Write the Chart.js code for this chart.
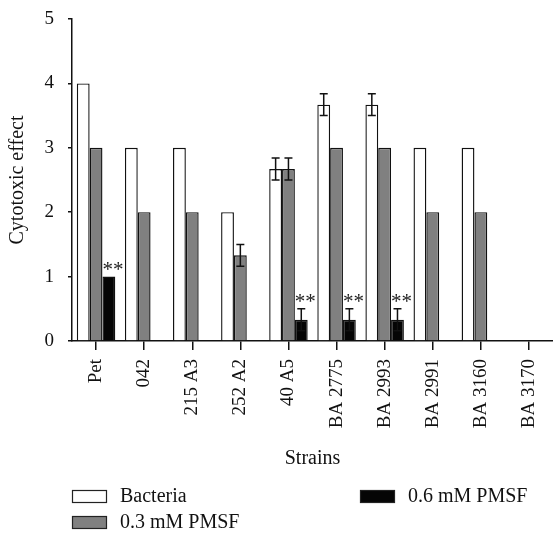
<!DOCTYPE html>
<html>
<head>
<meta charset="utf-8">
<script src="https://cdn.jsdelivr.net/npm/chart.js@4/dist/chart.umd.min.js"></script>
<style>
  html, body { margin: 0; padding: 0; background: #fff; }
  #wrap { width: 553px; height: 533px; position: relative; }
</style>
</head>
<body>
<div id="wrap"><canvas id="c" width="553" height="533"></canvas></div>
<script>
// ---- data ----
const categories = ['Pet', '042', '215 A3', '252 A2', '40 A5', 'BA 2775', 'BA 2993', 'BA 2991', 'BA 3160', 'BA 3170'];
const seriesNames = ['Bacteria', '0.3 mM PMSF', '0.6 mM PMSF'];
const bacteria = [4, 3, 3, 2, 2.67, 3.67, 3.67, 3, 3, 0];
const pmsf03 = [3, 2, 2, 1.33, 2.67, 3, 3, 2, 2, 0];
const pmsf06 = [1, 0, 0, 0, 0.33, 0.33, 0.33, 0, 0, 0];
const bacteriaErr = [0, 0, 0, 0, 0.17, 0.17, 0.17, 0, 0, 0];
const pmsf03Err = [0, 0, 0, 0.17, 0.17, 0, 0, 0, 0, 0];
const pmsf06Err = [0, 0, 0, 0, 0.17, 0.17, 0.17, 0, 0, 0];
const pmsf06Sig = ['**', '', '', '', '**', '**', '**', '', '', ''];
const yTicks = [0, 1, 2, 3, 4, 5];

const FONT = 'Liberation Serif';
const fills = ['#ffffff', '#808080', '#050505'];

const errorBars = {
  id: 'errorBars',
  afterDatasetsDraw(chart) {
    const ctx = chart.ctx;
    const y = chart.scales.y;
    ctx.save();
    ctx.strokeStyle = '#111';
    ctx.lineWidth = 1.5;
    chart.data.datasets.forEach((ds, di) => {
      const meta = chart.getDatasetMeta(di);
      ds.errors.forEach((e, i) => {
        if (!e) return;
        const bar = meta.data[i];
        const v = ds.data[i];
        const x = bar.x;
        const yt = y.getPixelForValue(v + e);
        const yb = y.getPixelForValue(v - e);
        ctx.beginPath();
        ctx.moveTo(x, yt); ctx.lineTo(x, yb);
        ctx.moveTo(x - 4, yt); ctx.lineTo(x + 4, yt);
        ctx.moveTo(x - 4, yb); ctx.lineTo(x + 4, yb);
        ctx.stroke();
      });
      if (ds.sig) {
        ctx.fillStyle = '#222';
        ctx.font = '21px "' + FONT + '"';
        ctx.textAlign = 'center';
        ctx.textBaseline = 'alphabetic';
        ds.sig.forEach((s, i) => {
          if (!s) return;
          const bar = meta.data[i];
          const top = y.getPixelForValue(ds.data[i] + (ds.errors[i] || 0));
          ctx.fillText(s, bar.x + 4, top - 1);
        });
      }
    });
    ctx.restore();
  }
};

const customLegend = {
  id: 'customLegend',
  afterDraw(chart) {
    const ctx = chart.ctx;
    const items = [
      {box: [72, 490], text: [120, 497]},
      {box: [72, 516], text: [120, 523]},
      {box: [360, 490], text: [408, 497]}
    ];
    ctx.save();
    ctx.font = '20px "' + FONT + '"';
    ctx.textBaseline = 'middle';
    ctx.textAlign = 'left';
    items.forEach((it, i) => {
      ctx.fillStyle = fills[i];
      ctx.fillRect(it.box[0], it.box[1], 35, 13);
      ctx.strokeStyle = '#222';
      ctx.lineWidth = 1.2;
      ctx.strokeRect(it.box[0] + 0.5, it.box[1] + 0.5, 34, 12);
      ctx.fillStyle = '#111';
      ctx.fillText(chart.data.datasets[i].label, it.text[0], it.text[1]);
    });
    ctx.restore();
  }
};

const mk = (label, data, errors, fill, sig) => ({
  label, data, errors, sig,
  backgroundColor: fill,
  borderColor: '#111',
  borderWidth: 1.4,
  borderSkipped: 'start',
  categoryPercentage: 0.8,
  barPercentage: 1.0
});

new Chart(document.getElementById('c'), {
  type: 'bar',
  data: {
    labels: categories,
    datasets: [
      mk(seriesNames[0], bacteria, bacteriaErr, fills[0]),
      mk(seriesNames[1], pmsf03, pmsf03Err, fills[1]),
      mk(seriesNames[2], pmsf06, pmsf06Err, fills[2], pmsf06Sig)
    ]
  },
  options: {
    responsive: false,
    animation: false,
    layout: { padding: { top: 19, right: 0, bottom: 62, left: 0 } },
    plugins: { legend: { display: false }, tooltip: { enabled: false } },
    scales: {
      x: {
        grid: { offset: false, drawOnChartArea: false, drawTicks: true, tickLength: 9, color: '#111', lineWidth: 1.5 },
        border: { color: '#111', width: 1.5 },
        ticks: { color: '#111', font: { family: FONT, size: 19 }, maxRotation: 90, minRotation: 90, padding: 9, autoSkip: false },
        title: { display: true, text: 'Strains', color: '#111', font: { family: FONT, size: 20 }, padding: { top: 0, bottom: 0 } },
        afterFit(scale) { scale.height = 130; scale.paddingLeft = 0; scale.paddingRight = 0; }
      },
      y: {
        min: 0, max: 5,
        afterBuildTicks(scale) { scale.ticks = yTicks.map(v => ({ value: v })); },
        grid: { drawOnChartArea: false, drawTicks: true, tickLength: 4, color: '#111', lineWidth: 1.5 },
        border: { color: '#111', width: 1.5 },
        ticks: { color: '#111', font: { family: FONT, size: 19 }, padding: 14 },
        title: { display: true, text: 'Cytotoxic effect', color: '#111', font: { family: FONT, size: 20 }, padding: { top: 6, bottom: 0 } },
        afterFit(scale) { scale.width = 72; scale.paddingTop = 0; scale.paddingBottom = 0; }
      }
    }
  },
  plugins: [errorBars, customLegend]
});
</script>
</body>
</html>
